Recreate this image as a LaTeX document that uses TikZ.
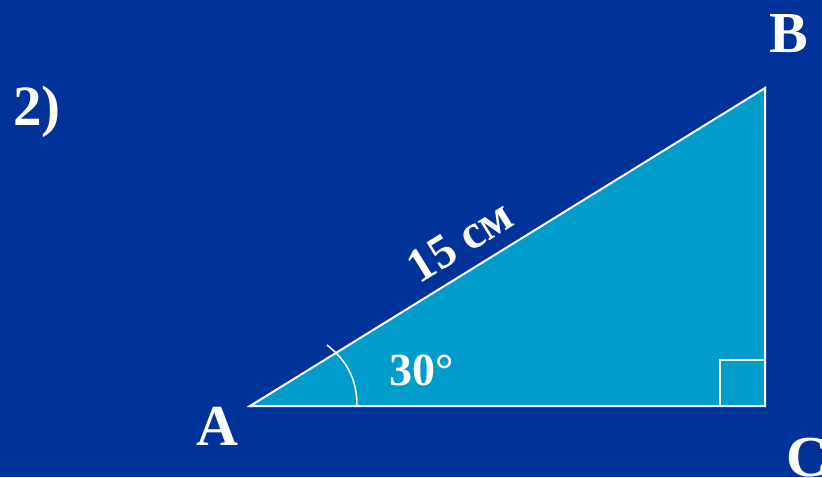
\documentclass[tikz,border=0pt]{standalone}
\usepackage{fontspec}
\setmainfont{Liberation Serif}
\usetikzlibrary{calc}
\definecolor{bgblue}{RGB}{0,51,153}
\definecolor{triblue}{RGB}{0,156,204}

\begin{document}
\begin{tikzpicture}[x=1pt, y=-1pt,
    lbl/.style={text=white, inner sep=0pt, font=\fontsize{#1}{#1}\selectfont\bfseries},
    lbl/.default=58,
    edge/.style={draw=white, line width=2pt},
    anglemark/.style={draw=white, line width=1.5pt}]

  %% Background
  \fill[bgblue] (0,0) rectangle (822,477);
  \useasboundingbox (0,0) rectangle (822,477);

  %% Triangle vertices
  \coordinate (A) at (250,406);
  \coordinate (C) at (765,406);
  \coordinate (B) at (765,88);
  \filldraw[edge, fill=triblue] (A) -- (C) -- (B) -- cycle;

  %% Right angle at C
  \coordinate (rc1) at ($(C)+(-45,0)$);
  \coordinate (rc2) at ($(C)+(0,-46)$);
  \draw[anglemark] (rc1) |- (rc2);

  %% Angle mark at A
  \coordinate (arcS) at (357,406);
  \coordinate (arcE) at (327,345);
  \draw[anglemark] (arcS) .. controls (357,378) and (346,360) .. (arcE);

  %% Labels
  \node[lbl=57, anchor=base west] (num) at (13,125) {2)};
  \node[lbl, anchor=base] (lA) at (217,445) {A};
  \node[lbl, anchor=base] (lB) at (789,52) {B};
  \node[lbl, anchor=base west] (lC) at (786,476) {C};
  \node[lbl=46, anchor=base west] (ang) at (389,385) {30°};
  \node[lbl=48, rotate=31.7] (hyp) at (460,241) {15 см};
\end{tikzpicture}
\end{document}
